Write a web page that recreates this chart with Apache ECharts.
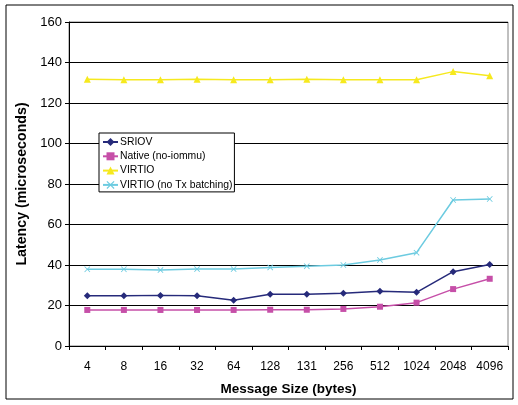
<!DOCTYPE html>
<html>
<head>
<meta charset="utf-8">
<script src="https://cdn.jsdelivr.net/npm/echarts@6/dist/echarts.min.js"></script>
<style>
html,body{margin:0;padding:0;background:#fff;}
#c{width:518px;height:405px;}
</style>
</head>
<body>
<div id="c"></div>
<script>
const categories = ['4','8','16','32','64','128','131','256','512','1024','2048','4096'];
const sriov = [24.8,24.8,25.0,24.8,22.6,25.5,25.5,26.0,27.0,26.5,36.7,40.3];
const native = [17.8,17.8,17.8,17.8,17.8,17.9,17.9,18.3,19.4,21.4,28.1,33.2];
const virtio = [131.7,131.5,131.5,131.7,131.5,131.5,131.7,131.5,131.5,131.5,135.5,133.5];
const virtioNoTx = [37.9,37.9,37.5,38.0,38.0,38.8,39.4,40.0,42.5,46.1,72.1,72.6];
const yTicks = [0,20,40,60,80,100,120,140,160];

const font = 'Liberation Sans, Arial, sans-serif';
const xSym = 'path://M0,1L1,0L5,4L9,0L10,1L6,5L10,9L9,10L5,6L1,10L0,9L4,5Z';

function ser(name, data, color, symbol, size){
  return {
    name, type:'line', data, symbol, symbolSize:size,
    lineStyle:{color, width:1.5},
    itemStyle:{color},
    emphasis:{disabled:true}
  };
}

const chart = echarts.init(document.getElementById('c'), null, {renderer:'canvas'});
chart.setOption({
  animation:false,
  backgroundColor:'#fff',
  textStyle:{fontFamily:font},
  graphic:[{type:'rect', shape:{x:6,y:5,width:507,height:394}, style:{fill:'none', stroke:'#000', lineWidth:1}, z:-1}],
  grid:{left:69, right:10, top:22, bottom:59, show:true, borderColor:'#808080', borderWidth:1},
  legend:{
    orient:'vertical', left:99, top:133,
    backgroundColor:'#fff', borderColor:'#000', borderWidth:1,
    padding:[4,2,2,3], itemGap:4.3, itemWidth:15, itemHeight:10,
    textStyle:{fontFamily:font, fontSize:10.4, color:'#000', padding:[0,0,0,-3]},
    data:['SRIOV','Native (no-iommu)','VIRTIO','VIRTIO (no Tx batching)']
  },
  xAxis:{
    type:'category', data:categories, boundaryGap:true,
    name:'Message Size (bytes)', nameLocation:'middle', nameGap:36,
    nameTextStyle:{fontFamily:font, fontWeight:'bold', fontSize:13.5, color:'#000'},
    axisLine:{lineStyle:{color:'#000', width:1}},
    axisTick:{show:true, length:4, lineStyle:{color:'#000'}},
    axisLabel:{fontFamily:font, fontSize:12, color:'#000', margin:15, interval:0}
  },
  yAxis:{
    type:'value', min:0, max:160, interval:20,
    name:'Latency (microseconds)', nameLocation:'middle', nameGap:39,
    nameTextStyle:{fontFamily:font, fontWeight:'bold', fontSize:14.2, color:'#000'},
    axisLine:{show:true, lineStyle:{color:'#000', width:1}},
    axisTick:{show:true, length:4, lineStyle:{color:'#000'}},
    axisLabel:{fontFamily:font, fontSize:13, color:'#000', margin:7,
      formatter:v=> yTicks.includes(v) ? String(v) : ''},
    splitLine:{show:true, lineStyle:{color:'#000', width:1}}
  },
  series:[
    ser('SRIOV', sriov, '#262a7a', 'diamond', 7),
    ser('Native (no-iommu)', native, '#c64fa8', 'rect', 6),
    ser('VIRTIO', virtio, '#f6e91e', 'triangle', 7),
    ser('VIRTIO (no Tx batching)', virtioNoTx, '#6ccbe0', xSym, 6)
  ]
});
</script>
</body>
</html>
